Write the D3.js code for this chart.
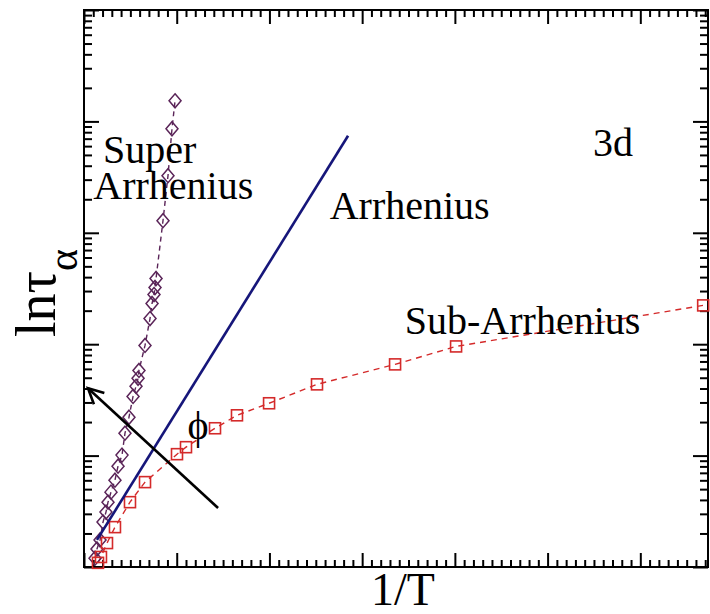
<!DOCTYPE html>
<html><head><meta charset="utf-8">
<script src="https://cdn.jsdelivr.net/npm/d3@7"></script>
<style>html,body{margin:0;padding:0;background:#fff;}svg{display:block;}</style>
</head><body>
<svg id="c" width="710" height="614"></svg>
<script>
// ---- data (x = 1/T in axis units, y = tau_alpha on log axis) ----
const superX = [0.119,0.140,0.173,0.205,0.237,0.259,0.291,0.334,0.367,0.410,0.442,0.485,0.529,0.561,0.583,0.593,0.658,0.712,0.734,0.755,0.766,0.777,0.852,0.906,0.949,0.982];
const superY = [1.20,1.45,1.75,2.53,3.11,3.82,4.70,6.02,8.04,10.1,15.9,22.1,34.0,41.9,49.4,58.2,97.5,170,232,279,323,389,1285,3258,8590,15300];
const subX = [0.151,0.183,0.248,0.334,0.496,0.658,1.003,1.100,1.413,1.650,1.996,2.513,3.355,4.013,6.678];
const subY = [1.09,1.23,1.64,2.28,3.82,5.78,10.3,11.9,17.6,23.0,29.5,43.6,65.9,95.5,223];
const arrhX = [0.140, 2.848];
const arrhY = [1.75, 7430];
const arrowX = [1.446, 0.043];
const arrowY = [3.38, 40.2];
const xDomain = [0, 6.73];
const yDomain = [1, 1e5];
const labels = [
  {lines:["Super","Arrhenius"], x:[0.205,0.10], y:4250},
  {lines:["Arrhenius"], x:[2.65], y:1325},
  {lines:["3d"], x:[5.49], y:4900},
  {lines:["Sub-Arrhenius"], x:[3.46], y:123},
];
const phiPos = {x:1.23, y:14.0};

// ---- layout ----
const L=84, R=708, T=10, B=567;
const svg = d3.select("#c");
const x = d3.scaleLinear().domain(xDomain).range([L,R]);
const y = d3.scaleLog().domain(yDomain).range([B,T]);
const font = "'Liberation Serif','Times New Roman',serif";

// frame
svg.append("rect").attr("x",L).attr("y",T).attr("width",R-L).attr("height",B-T)
  .attr("fill","none").attr("stroke","#000").attr("stroke-width",2);

// x ticks
const xMajor = d3.range(0, 7, 1);
const xMinor = d3.range(0, 6.75, 0.1).filter(v => Math.abs(v - Math.round(v)) > 1e-6);
function xAxis(sel, vals, size, bottom){
  const ax = (bottom ? d3.axisBottom(x) : d3.axisTop(x)).tickValues(vals).tickSize(-size).tickFormat("");
  sel.call(ax); sel.select(".domain").remove();
  sel.selectAll("line").attr("stroke","#000").attr("stroke-width",2);
}
xAxis(svg.append("g").attr("transform",`translate(0,${B})`), xMajor, 14, true);
xAxis(svg.append("g").attr("transform",`translate(0,${B})`), xMinor, 7, true);
xAxis(svg.append("g").attr("transform",`translate(0,${T})`), xMajor, 14, false);
xAxis(svg.append("g").attr("transform",`translate(0,${T})`), xMinor, 7, false);

// y ticks (log)
const yAll = y.ticks();
const yMajor = yAll.filter(v => Math.abs(Math.log10(v) - Math.round(Math.log10(v))) < 1e-9);
const yMinor = yAll.filter(v => !yMajor.includes(v));
function yAxis(sel, vals, size, left){
  const ax = (left ? d3.axisLeft(y) : d3.axisRight(y)).tickValues(vals).tickSize(-size).tickFormat("");
  sel.call(ax); sel.select(".domain").remove();
  sel.selectAll("line").attr("stroke","#000").attr("stroke-width",2);
}
yAxis(svg.append("g").attr("transform",`translate(${L},0)`), yMajor, 15, true);
yAxis(svg.append("g").attr("transform",`translate(${L},0)`), yMinor, 8, true);
yAxis(svg.append("g").attr("transform",`translate(${R},0)`), yMajor, 15, false);
yAxis(svg.append("g").attr("transform",`translate(${R},0)`), yMinor, 8, false);

// series
const superPts = superX.map((v,i)=>[v, superY[i]]);
const subPts = subX.map((v,i)=>[v, subY[i]]);
const line = d3.line().x(d=>x(d[0])).y(d=>y(d[1]));
const purple = "#5a2458", red = "#d42a2a";

svg.append("path").attr("d", line(superPts)).attr("fill","none")
  .attr("stroke",purple).attr("stroke-width",1.4).attr("stroke-dasharray","5,4");
svg.append("path").attr("d", line(subPts)).attr("fill","none")
  .attr("stroke",red).attr("stroke-width",1.4).attr("stroke-dasharray","6,5");

svg.append("g").selectAll("path").data(superPts).join("path")
  .attr("transform", d=>`translate(${x(d[0])},${y(d[1])})`)
  .attr("d","M0,-7L6,0L0,7L-6,0Z").attr("fill","none").attr("stroke",purple).attr("stroke-width",1.5);
svg.append("g").selectAll("rect").data(subPts).join("rect")
  .attr("x", d=>x(d[0])-5.5).attr("y", d=>y(d[1])-5.5).attr("width",11).attr("height",11)
  .attr("fill","none").attr("stroke",red).attr("stroke-width",1.6);

// Arrhenius line
svg.append("path").attr("d", line(arrhX.map((v,i)=>[v, arrhY[i]]))).attr("fill","none")
  .attr("stroke","#16167a").attr("stroke-width",2.6);

// arrow
const ax0 = x(arrowX[0]), ay0 = y(arrowY[0]), ax1 = x(arrowX[1]), ay1 = y(arrowY[1]);
svg.append("line").attr("x1",ax0).attr("y1",ay0).attr("x2",ax1).attr("y2",ay1)
  .attr("stroke","#000").attr("stroke-width",2.6);
const ang = Math.atan2(ay0-ay1, ax0-ax1), hl = 17, ha = 0.47;
svg.append("path").attr("d",
  `M${ax1+hl*Math.cos(ang-ha)},${ay1+hl*Math.sin(ang-ha)}L${ax1},${ay1}L${ax1+hl*Math.cos(ang+ha)},${ay1+hl*Math.sin(ang+ha)}`)
  .attr("fill","none").attr("stroke","#000").attr("stroke-width",2.6);

// text labels
const tl = svg.append("g").selectAll("text").data(labels).join("text")
  .attr("y", d=>y(d.y))
  .attr("font-family",font).attr("font-size",40).attr("fill","#000");
tl.each(function(d){
  const t = d3.select(this);
  d.lines.forEach((s,i)=>{
    t.append("tspan").attr("x", x(d.x[i])).attr("dy", i===0?0:36).text(s);
  });
});
svg.append("text").attr("x", x(phiPos.x)).attr("y", y(phiPos.y)).attr("text-anchor","middle")
  .attr("font-family",font).attr("font-size",40).text("ϕ");

// axis titles
svg.append("text").attr("x", 403).attr("y", 605).attr("text-anchor","middle")
  .attr("font-family",font).attr("font-size",46).text("1/T");
const yl = svg.append("text").attr("transform","translate(55,337) rotate(-90)")
  .attr("font-family",font).attr("font-size",56);
yl.append("tspan").text("lnτ");
yl.append("tspan").attr("font-size",42).attr("dy",22).text("α");
</script>
</body></html>
